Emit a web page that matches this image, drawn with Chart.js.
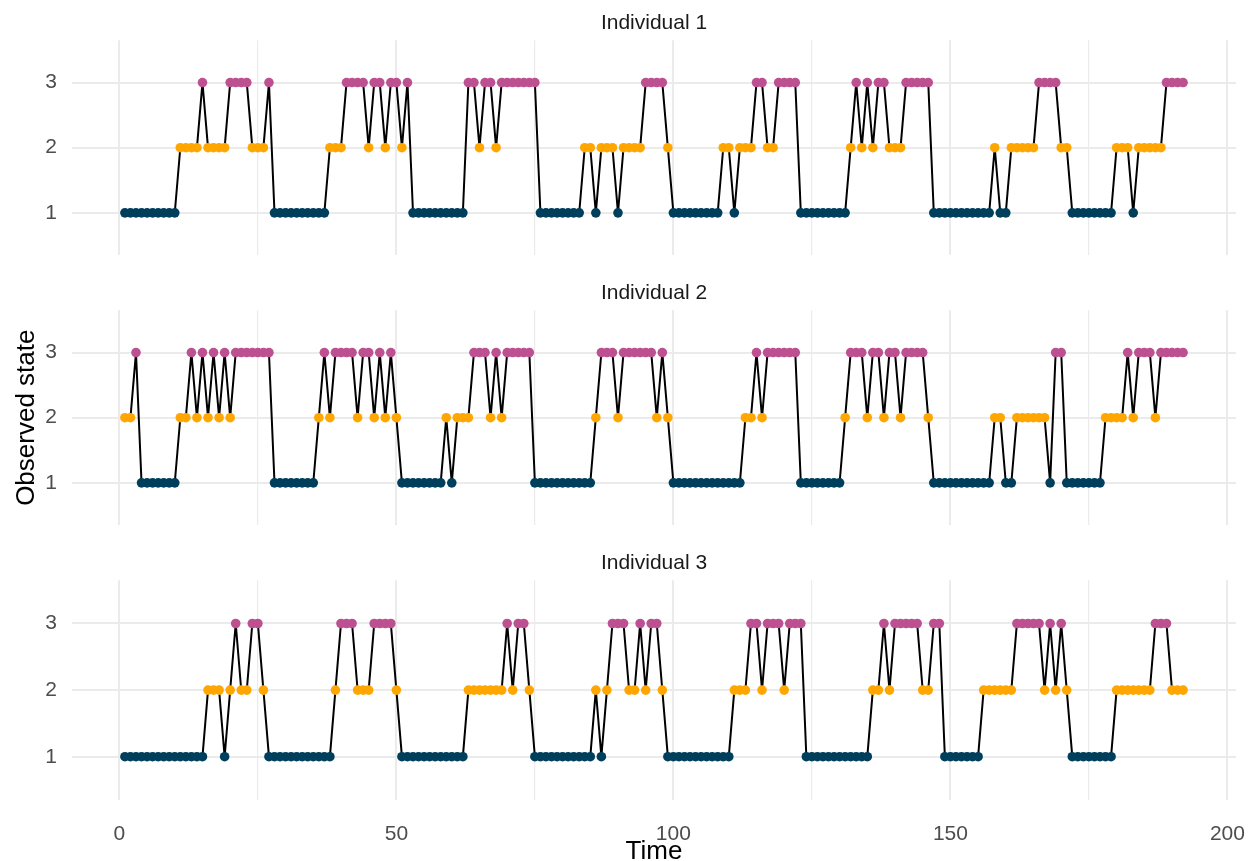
<!DOCTYPE html>
<html>
<head>
<meta charset="utf-8">
<script src="https://cdn.jsdelivr.net/npm/chart.js@4.4.1/dist/chart.umd.min.js"></script>
<style>
  html, body { margin: 0; padding: 0; background: #fff; }
  #wrap { position: relative; width: 1250px; height: 861px; overflow: hidden; }
  canvas { position: absolute; left: 0; }
</style>
</head>
<body>
<div id="wrap">
  <canvas id="p1" width="1250" height="255" style="top:5px"></canvas>
  <canvas id="p2" width="1250" height="255" style="top:275px"></canvas>
  <canvas id="p3" width="1250" height="316" style="top:545px"></canvas>
</div>
<script>
// observed state per time step (t = 1..192)
const individual1 = [
  1,1,1,1,1,1,1,1,1,1,
  2,2,2,2,3,2,2,2,2,3,
  3,3,3,2,2,2,3,1,1,1,
  1,1,1,1,1,1,1,2,2,2,
  3,3,3,3,2,3,3,2,3,3,
  2,3,1,1,1,1,1,1,1,1,
  1,1,3,3,2,3,3,2,3,3,
  3,3,3,3,3,1,1,1,1,1,
  1,1,1,2,2,1,2,2,2,1,
  2,2,2,2,3,3,3,3,2,1,
  1,1,1,1,1,1,1,1,2,2,
  1,2,2,2,3,3,2,2,3,3,
  3,3,1,1,1,1,1,1,1,1,
  1,2,3,2,3,2,3,3,2,2,
  2,3,3,3,3,3,1,1,1,1,
  1,1,1,1,1,1,1,2,1,1,
  2,2,2,2,2,3,3,3,3,2,
  2,1,1,1,1,1,1,1,1,2,
  2,2,1,2,2,2,2,2,3,3,
  3,3
];
const individual2 = [
  2,2,3,1,1,1,1,1,1,1,
  2,2,3,2,3,2,3,2,3,2,
  3,3,3,3,3,3,3,1,1,1,
  1,1,1,1,1,2,3,2,3,3,
  3,3,2,3,3,2,3,2,3,2,
  1,1,1,1,1,1,1,1,2,1,
  2,2,2,3,3,3,2,3,2,3,
  3,3,3,3,1,1,1,1,1,1,
  1,1,1,1,1,2,3,3,3,2,
  3,3,3,3,3,3,2,3,2,1,
  1,1,1,1,1,1,1,1,1,1,
  1,1,2,2,3,2,3,3,3,3,
  3,3,1,1,1,1,1,1,1,1,
  2,3,3,3,2,3,3,2,3,3,
  2,3,3,3,3,2,1,1,1,1,
  1,1,1,1,1,1,1,2,2,1,
  1,2,2,2,2,2,2,1,3,3,
  1,1,1,1,1,1,1,2,2,2,
  2,3,2,3,3,3,2,3,3,3,
  3,3
];
const individual3 = [
  1,1,1,1,1,1,1,1,1,1,
  1,1,1,1,1,2,2,2,1,2,
  3,2,2,3,3,2,1,1,1,1,
  1,1,1,1,1,1,1,1,2,3,
  3,3,2,2,2,3,3,3,3,2,
  1,1,1,1,1,1,1,1,1,1,
  1,1,2,2,2,2,2,2,2,3,
  2,3,3,2,1,1,1,1,1,1,
  1,1,1,1,1,2,1,2,3,3,
  3,2,2,3,2,3,3,2,1,1,
  1,1,1,1,1,1,1,1,1,1,
  2,2,2,3,3,2,3,3,3,2,
  3,3,3,1,1,1,1,1,1,1,
  1,1,1,1,1,2,2,3,2,3,
  3,3,3,3,2,2,3,3,1,1,
  1,1,1,1,1,2,2,2,2,2,
  2,3,3,3,3,3,2,3,2,3,
  2,1,1,1,1,1,1,1,1,2,
  2,2,2,2,2,2,3,3,3,2,
  2,2
];
const times = individual1.map((_, i) => i + 1);
const panelTitles = ['Individual 1', 'Individual 2', 'Individual 3'];
const timeTicks = [0, 50, 100, 150, 200];
const stateTicks = [1, 2, 3];
const stateColors = ['#003f5c', '#ffa600', '#bc5090'];

const fam = '"Liberation Sans", Arial, sans-serif';
Chart.defaults.font.family = fam;

function makePanel(id, title, states, isBottom, showYTitle) {
  const pts = times.map((t, i) => ({ x: t, y: states[i] }));
  return new Chart(document.getElementById(id), {
    type: 'line',
    data: {
      datasets: [{
        data: pts,
        borderColor: '#000',
        borderWidth: 2,
        tension: 0,
        pointRadius: 4.8,
        pointHoverRadius: 4.8,
        pointBorderWidth: 0,
        pointBackgroundColor: c => stateColors[c.raw.y - 1]
      }]
    },
    options: {
      responsive: false,
      animation: false,
      devicePixelRatio: 1,
      layout: { padding: { left: 0, right: 14, top: 0, bottom: 0 } },
      plugins: {
        legend: { display: false },
        tooltip: { enabled: false },
        title: {
          display: true,
          text: title,
          fullSize: false,
          color: '#1a1a1a',
          font: { size: 21, weight: 'normal', lineHeight: 1.2 },
          padding: { top: 6, bottom: 4 }
        }
      },
      scales: {
        x: {
          type: 'linear',
          min: -8.55,
          max: 201.55,
          grid: {
            color: '#ebebeb',
            lineWidth: c => (c.tick && timeTicks.includes(c.tick.value)) ? 2 : 1.2,
            drawTicks: false
          },
          border: { display: false },
          ticks: {
            display: isBottom,
            stepSize: 25,
            includeBounds: false,
            autoSkip: false,
            maxRotation: 0,
            padding: 22,
            color: '#4d4d4d',
            font: { size: 21 },
            callback: v => timeTicks.includes(v) ? v : ''
          },
          title: {
            display: isBottom,
            text: 'Time',
            color: '#000',
            font: { size: 26, lineHeight: 1 },
            padding: { top: 0, bottom: -4 }
          },
          afterFit: s => {
            s.height = isBottom ? 61 : 0;
            s.paddingLeft = 0;
            s.paddingRight = 0;
          }
        },
        y: {
          min: 0.35,
          max: 3.65,
          grid: { color: '#ebebeb', lineWidth: 2, drawTicks: false },
          border: { display: false },
          ticks: {
            stepSize: 1,
            includeBounds: false,
            padding: 15,
            color: '#4d4d4d',
            font: { size: 21 },
            callback: v => stateTicks.includes(v) ? v : ''
          },
          title: {
            display: showYTitle,
            text: 'Observed state',
            color: '#000',
            font: { size: 26, lineHeight: 1.2 },
            padding: { top: 11, bottom: 0 }
          },
          afterFit: s => {
            s.width = 72;
            s.paddingTop = 0;
            s.paddingBottom = 0;
          }
        }
      }
    }
  });
}

makePanel('p1', panelTitles[0], individual1, false, false);
makePanel('p2', panelTitles[1], individual2, false, true);
makePanel('p3', panelTitles[2], individual3, true, false);
</script>
</body>
</html>
